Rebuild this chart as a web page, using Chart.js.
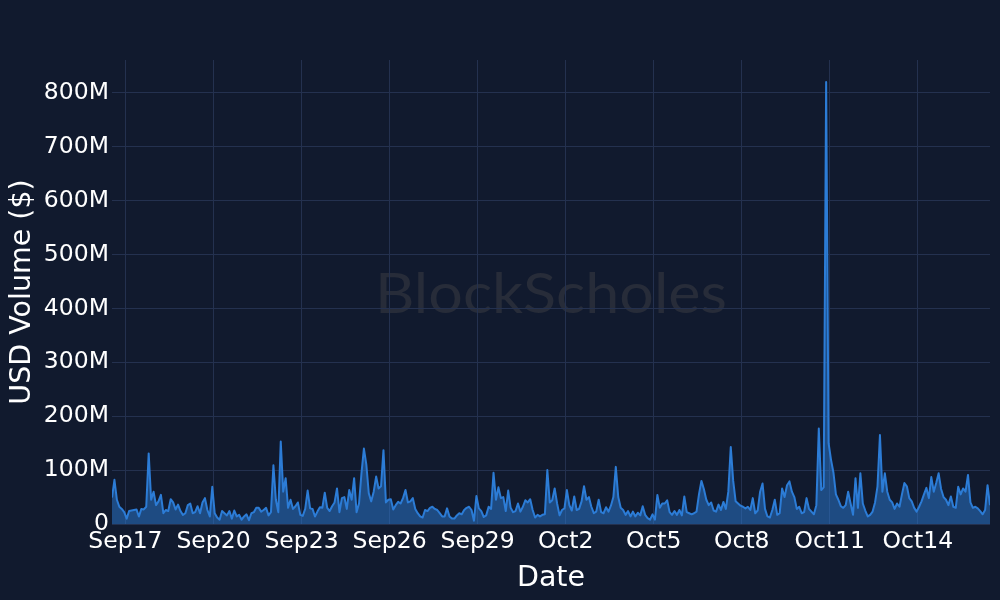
<!DOCTYPE html>
<html>
<head>
<meta charset="utf-8">
<script src="https://cdn.jsdelivr.net/npm/chart.js@4.4.0/dist/chart.umd.min.js"></script>
<style>
html,body{margin:0;padding:0;background:#111a2e;}
#wrap{width:1000px;height:600px;}
</style>
</head>
<body>
<div id="wrap"><canvas id="c" width="1000" height="600"></canvas></div>
<script>
// Time axis: hours relative to Sep 17 00:00, one reading every 2 hours
const startHour = -11;
const stepHours = 2;

// USD volume in millions (2-hour steps, Sep16 13:00 .. Oct16 11:00)
const volumeM = [
  49, 82, 45, 32, 28, 22, 10, 24, 25, 26,
  27, 14, 28, 27, 32, 131, 45, 60, 35, 42,
  54, 20, 26, 24, 46, 40, 27, 36, 24, 17,
  20, 35, 38, 20, 22, 33, 20, 40, 48, 26,
  14, 69, 20, 12, 8, 24, 20, 16, 24, 10,
  25, 14, 17, 8, 14, 18, 7, 20, 22, 30,
  30, 23, 26, 30, 16, 22, 109, 45, 22, 153,
  60, 85, 30, 45, 28, 33, 40, 17, 15, 28,
  62, 29, 28, 14, 23, 31, 30, 58, 30, 24,
  33, 40, 66, 22, 48, 50, 28, 63, 45, 85,
  22, 38, 94, 140, 110, 57, 42, 60, 88, 66,
  70, 137, 40, 45, 46, 27, 35, 41, 38, 48,
  63, 40, 42, 48, 28, 20, 14, 12, 26, 24,
  30, 32, 28, 26, 20, 14, 14, 29, 14, 10,
  10, 16, 20, 18, 26, 30, 32, 26, 6, 52,
  29, 24, 13, 16, 32, 28, 95, 45, 68, 48,
  50, 24, 62, 30, 22, 24, 38, 23, 32, 44,
  40, 46, 26, 12, 17, 14, 17, 18, 100, 40,
  44, 66, 38, 16, 26, 29, 63, 35, 25, 51,
  26, 28, 42, 70, 45, 50, 32, 20, 23, 45,
  22, 20, 31, 23, 34, 50, 106, 50, 30, 26,
  17, 24, 14, 23, 14, 21, 16, 33, 17, 11,
  8, 18, 8, 54, 30, 38, 38, 44, 22, 17,
  24, 17, 26, 16, 51, 22, 20, 18, 20, 23,
  55, 80, 65, 45, 35, 40, 25, 23, 36, 26,
  41, 28, 60, 143, 80, 42, 38, 34, 32, 29,
  32, 26, 48, 20, 25, 60, 75, 28, 14, 12,
  26, 45, 17, 20, 66, 50, 72, 79, 60, 50,
  28, 32, 20, 22, 48, 28, 23, 18, 35, 177,
  63, 68, 820, 150, 119, 95, 55, 45, 33, 30,
  35, 60, 38, 17, 85, 30, 94, 38, 25, 14,
  17, 23, 40, 70, 165, 60, 94, 60, 45, 40,
  28, 38, 32, 55, 76, 70, 48, 42, 30, 23,
  32, 42, 55, 67, 48, 87, 60, 76, 94, 65,
  50, 45, 35, 51, 32, 30, 69, 55, 66, 60,
  91, 40, 30, 32, 29, 24, 18, 26, 72, 35
];

const tickHours = [0, 72, 144, 216, 288, 360, 432, 504, 576, 648];
const tickLabels = ['Sep17', 'Sep20', 'Sep23', 'Sep26', 'Sep29', 'Oct2', 'Oct5', 'Oct8', 'Oct11', 'Oct14'];
const yTicks = [0, 100, 200, 300, 400, 500, 600, 700, 800];
const yMax = 861;

const BG = '#111a2e';
const GRID = '#24314f';
const LINE = 'rgb(44,124,214)';
const FILL = 'rgba(44,124,214,0.5)';
const FONT = 'DejaVu Sans';

const points = volumeM.map((v, i) => ({ x: startHour + i * stepHours, y: v }));
const xMin = startHour;
const xMax = startHour + (volumeM.length - 1) * stepHours;

const bgPlugin = {
  id: 'bgWatermark',
  beforeDraw(chart) {
    const ctx = chart.ctx;
    ctx.save();
    ctx.fillStyle = BG;
    ctx.fillRect(0, 0, chart.width, chart.height);
    const t = 'BlockScholes';
    ctx.font = '57px Lato';
    ctx.fillStyle = '#272c39';
    ctx.textBaseline = 'alphabetic';
    ctx.textAlign = 'center';
    const w = ctx.measureText(t).width;
    ctx.translate(551, 313);
    ctx.scale(352 / w, 1);
    ctx.fillText(t, 0, 0);
    ctx.restore();
  }
};

function build() {
  new Chart(document.getElementById('c'), {
    type: 'line',
    data: {
      datasets: [{
        data: points,
        borderColor: LINE,
        backgroundColor: FILL,
        borderWidth: 2,
        pointRadius: 0,
        tension: 0,
        fill: 'origin',
        borderJoinStyle: 'round'
      }]
    },
    options: {
      responsive: false,
      animation: false,
      devicePixelRatio: 1,
      layout: { padding: { top: 60, right: 10, left: 0, bottom: 0 } },
      plugins: { legend: { display: false }, tooltip: { enabled: false } },
      scales: {
        x: {
          type: 'linear',
          min: xMin,
          max: xMax,
          afterBuildTicks: s => { s.ticks = tickHours.map(v => ({ value: v })); },
          afterFit: s => { s.height = 76; },
          ticks: {
            autoSkip: false, maxRotation: 0, color: '#ffffff', padding: 4,
            font: { family: FONT, size: 23.5 },
            callback: v => { const k = tickHours.indexOf(v); return k >= 0 ? tickLabels[k] : ''; }
          },
          grid: { color: GRID, drawTicks: false, lineWidth: 1 },
          border: { display: false },
          title: { display: true, text: 'Date', color: '#ffffff', font: { family: FONT, size: 28.5 }, padding: { top: 0, bottom: 4 } }
        },
        y: {
          min: 0,
          max: yMax,
          afterBuildTicks: s => { s.ticks = yTicks.map(v => ({ value: v })); },
          afterFit: s => { s.width = 112; },
          ticks: {
            color: '#ffffff', padding: 3,
            font: { family: FONT, size: 23.5 },
            callback: v => v === 0 ? '0' : v + 'M'
          },
          grid: { color: GRID, drawTicks: false, lineWidth: 1 },
          border: { display: false },
          title: { display: true, text: 'USD Volume ($)', color: '#ffffff', font: { family: FONT, size: 28.5 }, padding: { top: 5, bottom: 0 } }
        }
      }
    },
    plugins: [bgPlugin]
  });
}

const loads = ['23.5px "DejaVu Sans"', '28.5px "DejaVu Sans"', '57px Lato'].map(f => document.fonts.load(f).catch(() => null));
Promise.all(loads).then(build, build);
</script>
</body>
</html>
